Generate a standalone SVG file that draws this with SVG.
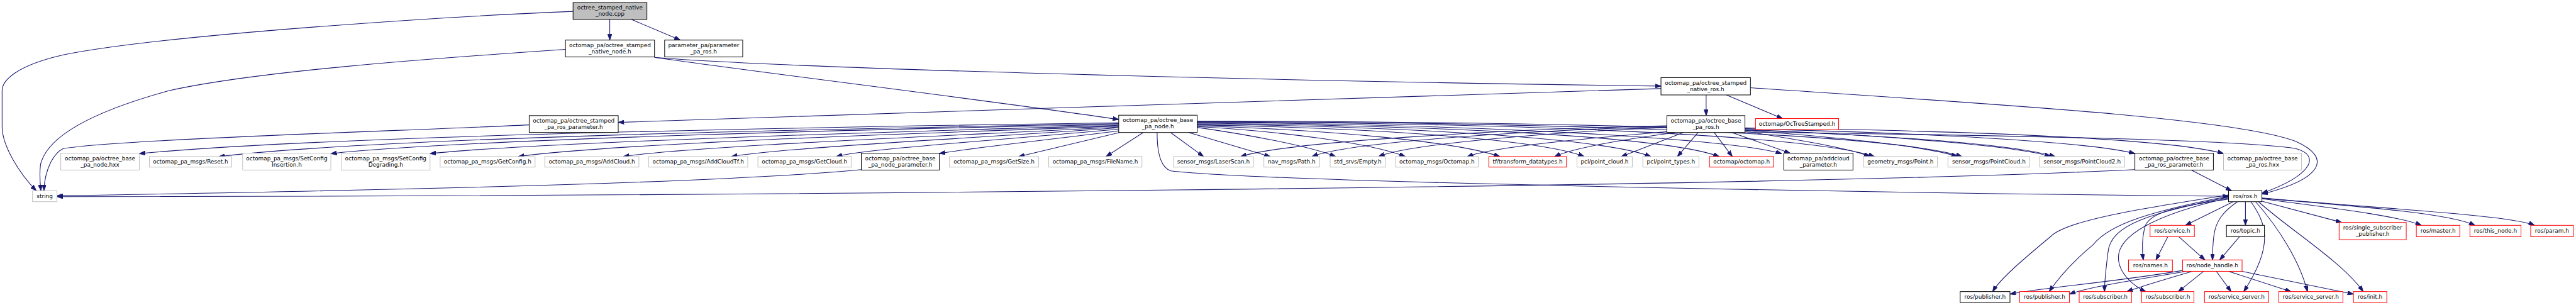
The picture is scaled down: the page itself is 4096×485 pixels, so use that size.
<svg xmlns="http://www.w3.org/2000/svg" width="4096" height="485" viewBox="0 0 4096 485">
<defs>
<style>
text{font-family:"DejaVu Sans","Liberation Sans",sans-serif;font-size:13.33px;text-anchor:middle;fill:#000}
rect{fill:#fff;stroke-width:1.5}
.ext rect{stroke:#bfbfbf}
.doc rect{stroke:#000}
.red rect{stroke:#ff0000}
.root rect{fill:#bfbfbf;stroke:#000}
#edges path{fill:none;stroke:#191970;stroke-width:1.6;marker-end:url(#a)}
</style>
<marker id="a" viewBox="0 0 10 7" refX="10" refY="3.5" markerWidth="14" markerHeight="10" markerUnits="userSpaceOnUse" orient="auto">
<path d="M0,0 L10,3.5 L0,7 z" fill="#191970" stroke="#191970"/>
</marker>
</defs>
<rect x="0" y="0" width="4096" height="485" fill="#fff" stroke="none"/>
<g transform="scale(0.671)">
<g id="edges">
<path d="M1445,46 L1445,95"/>
<path d="M1496,46 L1612,95"/>
<path d="M1358,27 C1100,37 400,80 150,130 C40,155 5,190 5,215 L5,300 C5,345 45,410 86,452"/>
<path d="M1340,117 C1000,140 600,170 400,215 C200,270 110,330 96,390 C93,415 95,435 97,452"/>
<path d="M1551,136 C1900,165 3200,195 3936,204"/>
<path d="M1551,136 C1800,172 2300,232 2651,283"/>
<path d="M4043,225 L4043,274"/>
<path d="M4091,225 L4224,281"/>
<path d="M4148,208 C4700,245 5300,280 5440,335 C5530,375 5500,425 5360,460"/>
<path d="M3936,210 C3300,230 2200,265 1465,290"/>
<path d="M1254,296 C900,312 300,330 150,352 C128,362 106,400 104,452"/>
<path d="M2651,291 C2000,300 800,320 330,364"/>
<path d="M2651,293 C2000,305 900,325 519,371"/>
<path d="M2651,295 C2100,305 1100,330 784,364"/>
<path d="M2651,297 C2200,310 1300,335 1019,364"/>
<path d="M2651,299 C2200,315 1450,340 1228,371"/>
<path d="M2651,301 C2300,320 1650,345 1477,371"/>
<path d="M2651,303 C2350,325 1850,350 1733,371"/>
<path d="M2651,306 C2400,330 2050,352 1982,371"/>
<path d="M2651,310 C2500,330 2300,350 2226,364"/>
<path d="M2653,314 L2414,371"/>
<path d="M2709,314 L2621,371"/>
<path d="M2774,314 L2852,371"/>
<path d="M2817,314 L3010,371"/>
<path d="M2837,302 C2950,318 3100,345 3165,371"/>
<path d="M2837,300 C3050,312 3250,340 3330,371"/>
<path d="M2837,298 C3150,308 3450,335 3554,371"/>
<path d="M2837,296 C3250,303 3650,330 3754,371"/>
<path d="M2837,294 C3350,300 3800,328 3912,371"/>
<path d="M2837,292 C3450,298 3950,325 4074,371"/>
<path d="M2837,290 C3550,295 4100,330 4222,364"/>
<path d="M2837,289 C3700,292 4300,325 4442,371"/>
<path d="M2837,288 C3800,290 4500,322 4649,371"/>
<path d="M2837,287 C3900,288 4700,320 4870,371"/>
<path d="M2742,314 C2742,360 2750,398 2775,405 C3000,432 4500,458 5281,465"/>
<path d="M3950,298 C3600,305 3050,335 2940,371"/>
<path d="M3950,300 C3650,308 3200,335 3109,371"/>
<path d="M3950,302 C3700,312 3340,340 3267,371"/>
<path d="M3952,312 C3800,325 3550,345 3477,371"/>
<path d="M3970,314 C3850,330 3730,350 3684,371"/>
<path d="M3989,314 L3842,371"/>
<path d="M4024,314 L3975,371"/>
<path d="M4062,314 L4105,371"/>
<path d="M4104,314 L4242,363"/>
<path d="M4135,311 C4250,330 4380,350 4431,371"/>
<path d="M4135,309 C4350,325 4560,345 4638,371"/>
<path d="M4135,307 C4450,320 4780,345 4859,371"/>
<path d="M4135,305 C4550,315 4950,335 5059,364"/>
<path d="M4135,303 C4700,310 5150,330 5269,364"/>
<path d="M4135,313 C4700,320 5300,330 5440,352 C5500,368 5480,415 5360,458"/>
<path d="M5193,403 L5288,452"/>
<path d="M5059,402 C4200,445 1500,466 135,466"/>
<path d="M2041,402 C1800,425 1300,445 135,464"/>
<path d="M5292,478 L5179,534"/>
<path d="M5321,478 L5321,534"/>
<path d="M5360,477 L5549,527"/>
<path d="M5360,471 C5500,490 5680,510 5738,534"/>
<path d="M5360,470 C5600,490 5800,505 5865,534"/>
<path d="M5360,469 C5650,495 5950,510 6006,534"/>
<path d="M5281,472 C5150,490 5090,505 5082,540 C5075,570 5076,595 5079,616"/>
<path d="M5302,478 C5270,500 5250,523 5246,560 C5243,585 5243,600 5243,616"/>
<path d="M5281,462 C5100,490 4900,520 4860,560 C4800,610 4740,660 4722,691"/>
<path d="M5281,465 C5100,500 5000,530 4960,580 C4900,630 4870,670 4856,691"/>
<path d="M5281,467 C5100,505 5000,530 4995,600 C4990,640 4987,670 4987,691"/>
<path d="M5281,469 C5100,510 5020,560 5020,610 C5020,650 5060,680 5085,691"/>
<path d="M5334,478 C5370,530 5390,580 5317,691"/>
<path d="M5345,478 C5400,540 5450,620 5468,691"/>
<path d="M5352,478 C5420,540 5550,620 5600,691"/>
<path d="M5137,561 L5109,616"/>
<path d="M5163,561 L5225,616"/>
<path d="M5307,561 L5260,616"/>
<path d="M5172,641 C5000,670 4850,680 4763,697"/>
<path d="M5180,643 C5050,665 4950,680 4904,697"/>
<path d="M5195,643 C5120,665 5070,680 5040,691"/>
<path d="M5222,643 L5162,691"/>
<path d="M5252,643 L5287,691"/>
<path d="M5281,643 L5429,691"/>
<path d="M5313,643 L5577,697"/>
</g>
<g id="n_cpp" class="root"><rect x="1358" y="6" width="175" height="40"/><text x="1445.5" y="22.5">octree_stamped_native</text><text x="1445.5" y="37.5">_node.cpp</text></g>
<g id="n_nnh" class="doc"><rect x="1340" y="95" width="211" height="40"/><text x="1445.5" y="111.5">octomap_pa/octree_stamped</text><text x="1445.5" y="126.5">_native_node.h</text></g>
<g id="n_ppr" class="doc"><rect x="1575" y="95" width="185" height="40"/><text x="1667.5" y="111.5">parameter_pa/parameter</text><text x="1667.5" y="126.5">_pa_ros.h</text></g>
<g id="n_nros" class="doc"><rect x="3936" y="184" width="212" height="41"/><text x="4042" y="200.5">octomap_pa/octree_stamped</text><text x="4042" y="215.5">_native_ros.h</text></g>
<g id="n_sprp" class="doc"><rect x="1254" y="274" width="211" height="40"/><text x="1359.5" y="290.5">octomap_pa/octree_stamped</text><text x="1359.5" y="305.5">_pa_ros_parameter.h</text></g>
<g id="n_bpn" class="doc"><rect x="2651" y="273" width="186" height="41"/><text x="2744" y="289.5">octomap_pa/octree_base</text><text x="2744" y="304.5">_pa_node.h</text></g>
<g id="n_bpr" class="doc"><rect x="3950" y="274" width="185" height="40"/><text x="4042.5" y="290.5">octomap_pa/octree_base</text><text x="4042.5" y="305.5">_pa_ros.h</text></g>
<g id="n_ots" class="red"><rect x="4160" y="281" width="197" height="26"/><text x="4258.5" y="298.5">octomap/OcTreeStamped.h</text></g>
<g id="n_hxx" class="ext"><rect x="144" y="363" width="186" height="40"/><text x="237" y="379.5">octomap_pa/octree_base</text><text x="237" y="394.5">_pa_node.hxx</text></g>
<g id="n_reset" class="ext"><rect x="354" y="371" width="195" height="25"/><text x="451.5" y="388">octomap_pa_msgs/Reset.h</text></g>
<g id="n_sci" class="ext"><rect x="575" y="363" width="209" height="40"/><text x="679.5" y="379.5">octomap_pa_msgs/SetConfig</text><text x="679.5" y="394.5">Insertion.h</text></g>
<g id="n_scd" class="ext"><rect x="809" y="363" width="210" height="40"/><text x="914" y="379.5">octomap_pa_msgs/SetConfig</text><text x="914" y="394.5">Degrading.h</text></g>
<g id="n_getconfig" class="ext"><rect x="1043" y="371" width="225" height="25"/><text x="1155.5" y="388">octomap_pa_msgs/GetConfig.h</text></g>
<g id="n_addcloud" class="ext"><rect x="1291" y="371" width="223" height="25"/><text x="1402.5" y="388">octomap_pa_msgs/AddCloud.h</text></g>
<g id="n_addcloudtf" class="ext"><rect x="1537" y="371" width="235" height="25"/><text x="1654.5" y="388">octomap_pa_msgs/AddCloudTf.h</text></g>
<g id="n_getcloud" class="ext"><rect x="1796" y="371" width="221" height="25"/><text x="1906.5" y="388">octomap_pa_msgs/GetCloud.h</text></g>
<g id="n_bpnp" class="doc"><rect x="2041" y="363" width="185" height="40"/><text x="2133.5" y="379.5">octomap_pa/octree_base</text><text x="2133.5" y="394.5">_pa_node_parameter.h</text></g>
<g id="n_getsize" class="ext"><rect x="2250" y="371" width="211" height="25"/><text x="2355.5" y="388">octomap_pa_msgs/GetSize.h</text></g>
<g id="n_filename" class="ext"><rect x="2485" y="371" width="221" height="25"/><text x="2595.5" y="388">octomap_pa_msgs/FileName.h</text></g>
<g id="n_laser" class="ext"><rect x="2781" y="371" width="189" height="25"/><text x="2875.5" y="388">sensor_msgs/LaserScan.h</text></g>
<g id="n_path" class="ext"><rect x="2995" y="371" width="132" height="25"/><text x="3061" y="388">nav_msgs/Path.h</text></g>
<g id="n_empty" class="ext"><rect x="3152" y="371" width="131" height="25"/><text x="3217.5" y="388">std_srvs/Empty.h</text></g>
<g id="n_octomapmsg" class="ext"><rect x="3307" y="371" width="196" height="25"/><text x="3405" y="388">octomap_msgs/Octomap.h</text></g>
<g id="n_tf" class="red"><rect x="3528" y="371" width="184" height="25"/><text x="3620" y="388">tf/transform_datatypes.h</text></g>
<g id="n_pclcloud" class="ext"><rect x="3737" y="371" width="131" height="25"/><text x="3802.5" y="388">pcl/point_cloud.h</text></g>
<g id="n_pcltypes" class="ext"><rect x="3893" y="371" width="133" height="25"/><text x="3959.5" y="388">pcl/point_types.h</text></g>
<g id="n_octomap" class="red"><rect x="4051" y="371" width="152" height="25"/><text x="4127" y="388">octomap/octomap.h</text></g>
<g id="n_acp" class="doc"><rect x="4227" y="363" width="164" height="40"/><text x="4309" y="379.5">octomap_pa/addcloud</text><text x="4309" y="394.5">_parameter.h</text></g>
<g id="n_point" class="ext"><rect x="4416" y="371" width="175" height="25"/><text x="4503.5" y="388">geometry_msgs/Point.h</text></g>
<g id="n_pc" class="ext"><rect x="4616" y="371" width="194" height="25"/><text x="4713" y="388">sensor_msgs/PointCloud.h</text></g>
<g id="n_pc2" class="ext"><rect x="4833" y="371" width="202" height="25"/><text x="4934" y="388">sensor_msgs/PointCloud2.h</text></g>
<g id="n_bprp" class="doc"><rect x="5059" y="363" width="186" height="40"/><text x="5152" y="379.5">octomap_pa/octree_base</text><text x="5152" y="394.5">_pa_ros_parameter.h</text></g>
<g id="n_bprhxx" class="ext"><rect x="5269" y="363" width="185" height="40"/><text x="5361.5" y="379.5">octomap_pa/octree_base</text><text x="5361.5" y="394.5">_pa_ros.hxx</text></g>
<g id="n_string" class="ext"><rect x="77" y="452" width="58" height="26"/><text x="106" y="469">string</text></g>
<g id="n_rosh" class="doc"><rect x="5281" y="452" width="79" height="26"/><text x="5320.5" y="469">ros/ros.h</text></g>
<g id="n_service" class="red"><rect x="5095" y="534" width="105" height="27"/><text x="5147.5" y="552">ros/service.h</text></g>
<g id="n_topic" class="doc"><rect x="5276" y="534" width="90" height="27"/><text x="5321" y="552">ros/topic.h</text></g>
<g id="n_ssp" class="red"><rect x="5543" y="527" width="159" height="41"/><text x="5622.5" y="543.5">ros/single_subscriber</text><text x="5622.5" y="558.5">_publisher.h</text></g>
<g id="n_master" class="red"><rect x="5726" y="534" width="103" height="27"/><text x="5777.5" y="552">ros/master.h</text></g>
<g id="n_thisnode" class="red"><rect x="5853" y="534" width="121" height="27"/><text x="5913.5" y="552">ros/this_node.h</text></g>
<g id="n_param" class="red"><rect x="5997" y="534" width="101" height="27"/><text x="6047.5" y="552">ros/param.h</text></g>
<g id="n_names" class="red"><rect x="5044" y="616" width="104" height="27"/><text x="5096" y="634">ros/names.h</text></g>
<g id="n_nodehandle" class="red"><rect x="5172" y="616" width="141" height="27"/><text x="5242.5" y="634">ros/node_handle.h</text></g>
<g id="n_pub1" class="doc"><rect x="4645" y="691" width="118" height="26"/><text x="4704" y="708">ros/publisher.h</text></g>
<g id="n_pub2" class="red"><rect x="4786" y="691" width="118" height="26"/><text x="4845" y="708">ros/publisher.h</text></g>
<g id="n_sub1" class="red"><rect x="4927" y="691" width="124" height="26"/><text x="4989" y="708">ros/subscriber.h</text></g>
<g id="n_sub2" class="red"><rect x="5075" y="691" width="124" height="26"/><text x="5137" y="708">ros/subscriber.h</text></g>
<g id="n_ss1" class="red"><rect x="5224" y="691" width="152" height="26"/><text x="5300" y="708">ros/service_server.h</text></g>
<g id="n_ss2" class="red"><rect x="5400" y="691" width="152" height="26"/><text x="5476" y="708">ros/service_server.h</text></g>
<g id="n_init" class="red"><rect x="5577" y="691" width="79" height="26"/><text x="5616.5" y="708">ros/init.h</text></g>
</g>
</svg>
